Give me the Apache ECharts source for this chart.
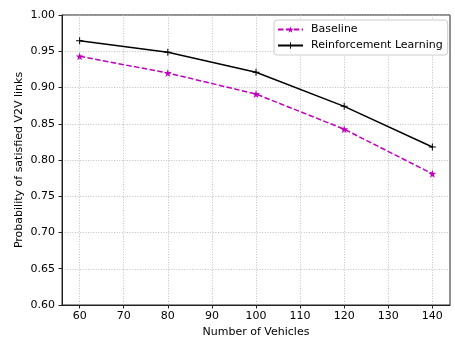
<!DOCTYPE html>
<html><head><meta charset="utf-8">
<script src="https://cdn.jsdelivr.net/npm/echarts@6/dist/echarts.min.js"></script>
<style>html,body{margin:0;padding:0;background:#fff}#c{width:455px;height:343px}</style>
</head><body><div id="c"></div>
<script>
const vehicles = [60, 80, 100, 120, 140];
const baseline = [0.943, 0.920, 0.891, 0.8425, 0.781];
const rl = [0.9645, 0.9485, 0.921, 0.874, 0.818];
const xTicks = [60, 70, 80, 90, 100, 110, 120, 130, 140];
const seriesNames = ['Baseline', 'Reinforcement Learning'];

const FONT = 'DejaVu Sans';
const star = 'path://M50,0L61,35L98,35L68,57L79,91L50,70L21,91L32,57L2,35L39,35Z';
const plus = 'path://M4.3,0H5.7V4.3H10V5.7H5.7V10H4.3V5.7H0V4.3H4.3Z';

const chart = echarts.init(document.getElementById('c'), null, {renderer: 'canvas'});
chart.setOption({
  animation: false,
  backgroundColor: '#fff',
  textStyle: {fontFamily: FONT},
  grid: {left: 62, right: 5, top: 15, bottom: 38, show: true, borderColor: '#222', borderWidth: 1, backgroundColor: 'transparent'},
  legend: {
    orient: 'vertical', left: 274, top: 20,
    itemWidth: 25, itemHeight: 8, itemGap: 5,
    padding: [4, 5, 4, 3],
    borderColor: '#ccc', borderWidth: 1, borderRadius: 3, backgroundColor: '#fff',
    textStyle: {fontFamily: FONT, fontSize: 11, color: '#000', padding: [0, 0, 0, 3]},
    data: seriesNames
  },
  xAxis: {
    type: 'value', min: 56, max: 144,
    name: 'Number of Vehicles', nameLocation: 'middle', nameGap: 20,
    nameTextStyle: {fontFamily: FONT, fontSize: 11, color: '#000'},
    axisLine: {lineStyle: {color: '#222', width: 1}},
    axisTick: {show: true, inside: false, length: 3.5, lineStyle: {color: '#222'}, customValues: xTicks},
    axisLabel: {fontFamily: FONT, fontSize: 11, color: '#000', margin: 6, customValues: xTicks},
    splitLine: {show: true, lineStyle: {color: '#b0b0b0', type: [1, 1.6], width: 0.8}}
  },
  yAxis: {
    type: 'value', min: 0.6, max: 1.0, interval: 0.05,
    name: 'Probability of satisfied V2V links', nameLocation: 'middle', nameGap: 37,
    nameMoveOverlap: false,
    nameTextStyle: {fontFamily: FONT, fontSize: 11, color: '#000'},
    axisLine: {show: true, lineStyle: {color: '#222', width: 1}},
    axisTick: {show: true, inside: false, length: 3.5, lineStyle: {color: '#222'}},
    axisLabel: {fontFamily: FONT, fontSize: 11, color: '#000', margin: 7, formatter: v => v.toFixed(2)},
    splitLine: {show: true, lineStyle: {color: '#b0b0b0', type: [1, 1.6], width: 0.8}}
  },
  series: [
    {
      name: seriesNames[0], type: 'line',
      data: vehicles.map((x, i) => [x, baseline[i]]),
      symbol: star, symbolSize: 8, showSymbol: true,
      lineStyle: {color: '#bf00bf', width: 1.5, type: [5.5, 2.4]},
      itemStyle: {color: '#bf00bf', borderWidth: 0}
    },
    {
      name: seriesNames[1], type: 'line',
      data: vehicles.map((x, i) => [x, rl[i]]),
      symbol: plus, symbolSize: 7, showSymbol: true,
      lineStyle: {color: '#000', width: 1.5},
      itemStyle: {color: '#000', borderWidth: 0}
    }
  ]
});
</script>
</body></html>
